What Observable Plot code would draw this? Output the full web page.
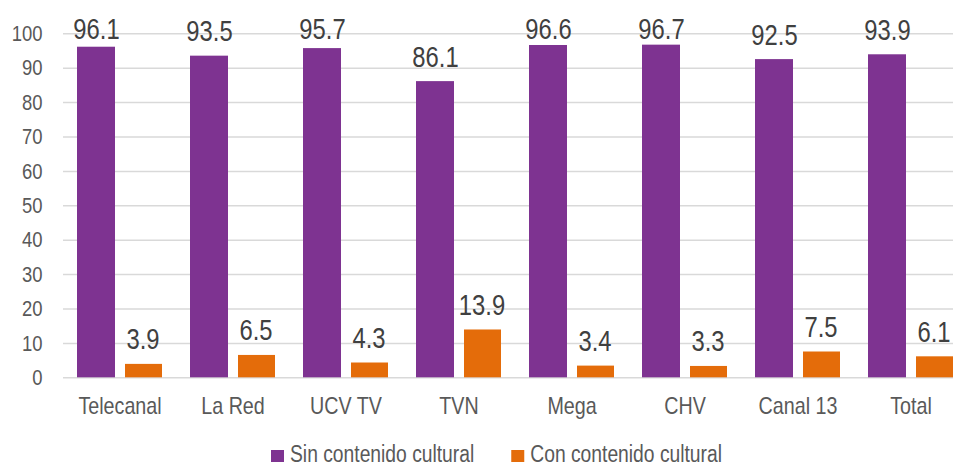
<!DOCTYPE html>
<html>
<head>
<meta charset="utf-8">
<script src="https://cdn.jsdelivr.net/npm/d3@7"></script>
<script src="https://cdn.jsdelivr.net/npm/@observablehq/plot@0.6"></script>
<style>
  html, body { margin: 0; padding: 0; background: #fff; }
  body { width: 953px; height: 468px; overflow: hidden; font-family: "Liberation Sans", Arial, sans-serif; }
  #chart svg, #legend svg { display: block; }
</style>
</head>
<body>
<div id="chart"></div>
<div id="legend"></div>
<script>
const categories = ["Telecanal", "La Red", "UCV TV", "TVN", "Mega", "CHV", "Canal 13", "Total"];
const sinValues = [96.1, 93.5, 95.7, 86.1, 96.6, 96.7, 92.5, 93.9];
const conValues = [3.9, 6.5, 4.3, 13.9, 3.4, 3.3, 7.5, 6.1];
const seriesNames = ["Sin contenido cultural", "Con contenido cultural"];
const colors = ["#7E3391", "#E46C0A"];
const yTicks = [0, 10, 20, 30, 40, 50, 60, 70, 80, 90, 100];

const sinData = categories.map((c, i) => ({cat: c, v: sinValues[i]}));
const conData = categories.map((c, i) => ({cat: c, v: conValues[i]}));
const labelY = d => Math.min(d.v, 94.1);

const fontFam = '"Liberation Sans", Arial, sans-serif';
const NARROW = 0.82;

const chart = Plot.plot({
  width: 953,
  height: 432,
  marginLeft: 63,
  marginRight: 0,
  marginTop: 33,
  marginBottom: 55,
  style: {fontFamily: fontFam, color: "#595959", background: "#fff"},
  x: {domain: categories, range: [63, 967], padding: 0, label: null},
  y: {domain: [0, 100], range: [377.3, 33.3], label: null},
  marks: [
    Plot.ruleY(yTicks, {stroke: "#D9D9D9", strokeWidth: 1.5}),
    Plot.axisY({ticks: yTicks, tickSize: 0, tickPadding: 21, fontSize: 22.5, label: null}),
    Plot.axisX({tickSize: 0, tickPadding: 19, fontSize: 24, label: null}),
    Plot.barY(sinData, {x: "cat", y: "v", fill: colors[0], insetLeft: 14, insetRight: 61}),
    Plot.barY(conData, {x: "cat", y: "v", fill: colors[1], insetLeft: 62, insetRight: 14}),
    Plot.text(sinData, {x: "cat", y: labelY, text: d => d.v.toFixed(1), dx: -23.5, dy: -15, lineAnchor: "bottom", fontSize: 29, fill: "#404040"}),
    Plot.text(conData, {x: "cat", y: labelY, text: d => d.v.toFixed(1), dx: 23, dy: -15, lineAnchor: "bottom", fontSize: 29, fill: "#404040"})
  ]
});
document.getElementById("chart").appendChild(chart);

function narrow(root) {
  root.querySelectorAll("text").forEach(t => {
    const len = t.getComputedTextLength();
    if (len > 0) {
      t.setAttribute("textLength", (len * NARROW).toFixed(2));
      t.setAttribute("lengthAdjust", "spacingAndGlyphs");
    }
  });
}
narrow(chart);

// legend (SVG, below the chart)
const lg = d3.create("svg").attr("width", 953).attr("height", 36)
  .style("font-family", fontFam).style("font-size", "23.5px");
document.getElementById("legend").appendChild(lg.node());
let xPos = 271;
seriesNames.forEach((name, i) => {
  lg.append("rect").attr("x", xPos).attr("y", 18).attr("width", 13).attr("height", 12).attr("fill", colors[i]);
  const t = lg.append("text").attr("x", xPos + 19).attr("y", 30).attr("fill", "#595959").text(name);
  const len = t.node().getComputedTextLength() * NARROW;
  t.attr("textLength", len.toFixed(2)).attr("lengthAdjust", "spacingAndGlyphs");
  xPos += 19 + len + 37;
});
</script>
</body>
</html>
